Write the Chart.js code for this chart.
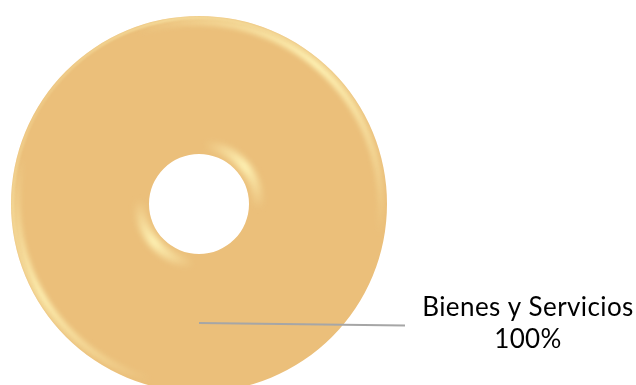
<!DOCTYPE html>
<html>
<head>
<meta charset="utf-8">
<script src="https://cdn.jsdelivr.net/npm/chart.js@4.4.1/dist/chart.umd.min.js"></script>
<style>
  html, body { margin: 0; padding: 0; background: #fff; overflow: hidden; }
  #wrap { position: absolute; left: 0; top: 0; width: 636px; height: 400px; }
</style>
</head>
<body>
<div id="wrap"><canvas id="c"></canvas></div>
<script>
const categories = ['Bienes y Servicios'];
const values = [100];
const colors = ['#EBBF7A'];

const bevelPlugin = {
  id: 'bevel',
  afterDatasetsDraw(chart) {
    const ctx = chart.ctx;
    const meta = chart.getDatasetMeta(0);
    const arc = meta.data[0];
    if (!arc) return;
    const { x, y, innerRadius, outerRadius } = arc.getProps(['x', 'y', 'innerRadius', 'outerRadius'], true);
    ctx.save();
    ctx.beginPath();
    ctx.arc(x, y, outerRadius, 0, Math.PI * 2);
    ctx.arc(x, y, innerRadius, 0, Math.PI * 2, true);
    ctx.clip();
    const hl = (r, w, peaks, blur) => {
      const g = ctx.createConicGradient(0, x, y);
      for (let a = 0; a <= 360; a += 5) {
        let v = 0;
        peaks.forEach(p => {
          let d = Math.abs(((a - p.c + 540) % 360) - 180);
          v = Math.max(v, p.a * Math.max(0, 1 - d / p.w));
        });
        g.addColorStop(a / 360, 'rgba(255,246,185,' + v.toFixed(3) + ')');
      }
      ctx.filter = 'blur(' + blur + 'px)';
      ctx.strokeStyle = g;
      ctx.lineWidth = w;
      ctx.beginPath();
      ctx.arc(x, y, r, 0, Math.PI * 2);
      ctx.stroke();
    };
    hl(outerRadius - 6, 7, [{ c: 310, w: 60, a: 0.95 }, { c: 150, w: 45, a: 0.85 }], 2.5);
    hl(outerRadius - 1.5, 3, [{ c: 260, w: 80, a: 0.5 }, { c: 180, w: 60, a: 0.4 }], 1);
    hl(innerRadius + 9, 10, [{ c: 320, w: 45, a: 0.95 }, { c: 140, w: 45, a: 0.95 }], 3);
    ctx.restore();
  }
};

const labelPlugin = {
  id: 'leaderLabel',
  afterDraw(chart) {
    const ctx = chart.ctx;
    const meta = chart.getDatasetMeta(0);
    const ds = chart.data.datasets[0];
    const total = ds.data.reduce((s, v) => s + v, 0);
    meta.data.forEach((arc, i) => {
      const { x, y, innerRadius, outerRadius } = arc.getProps(['x', 'y', 'innerRadius', 'outerRadius'], true);
      const midR = (innerRadius + outerRadius) / 2;
      const ang = Math.PI / 2;
      const ax = x + Math.cos(ang) * midR;
      const ay = y + Math.sin(ang) * midR;
      const ex = 405, ey = ay + 2.5;
      ctx.save();
      ctx.strokeStyle = '#A6A6A6';
      ctx.lineWidth = 2;
      ctx.beginPath();
      ctx.moveTo(ax, ay);
      ctx.lineTo(ex, ey);
      ctx.stroke();
      ctx.fillStyle = '#000';
      ctx.textAlign = 'center';
      ctx.textBaseline = 'alphabetic';
      ctx.font = '26px Lato, "Open Sans", sans-serif';
      ctx.letterSpacing = '0.4px';
      const pct = Math.round(values[i] / total * 100) + '%';
      ctx.fillText(chart.data.labels[i], 528, 316);
      ctx.fillText(pct, 528, 348);
      ctx.restore();
    });
  }
};

new Chart(document.getElementById('c'), {
  type: 'doughnut',
  data: {
    labels: categories,
    datasets: [{
      data: values,
      backgroundColor: colors,
      borderWidth: 0,
      hoverOffset: 0
    }]
  },
  options: {
    responsive: true,
    maintainAspectRatio: false,
    animation: false,
    cutout: '26.6%',
    layout: { padding: { left: 11, right: 249, top: 16, bottom: 8 } },
    plugins: { legend: { display: false }, tooltip: { enabled: false } },
    events: []
  },
  plugins: [bevelPlugin, labelPlugin]
});
</script>
</body>
</html>
